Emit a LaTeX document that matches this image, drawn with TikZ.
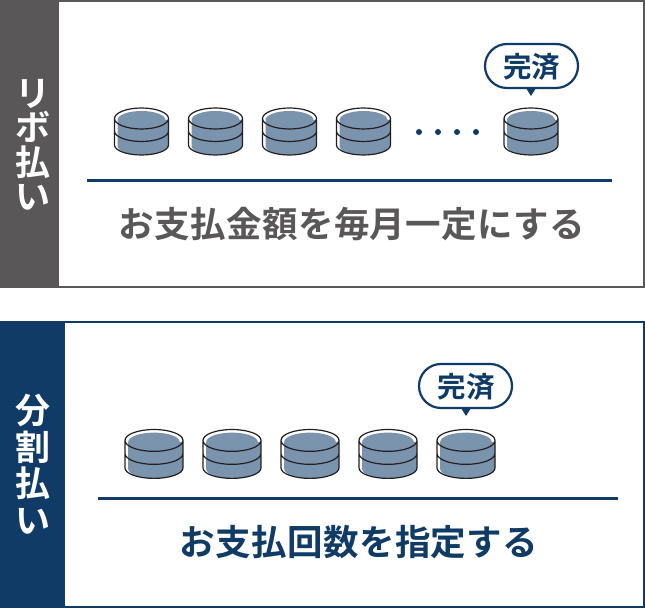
\documentclass[tikz,border=0pt]{standalone}
\usepackage{fontspec}
\newfontfamily\jpb[Script=CJK,Language=Japanese]{Noto Sans CJK JP Bold}
\newfontfamily\jpbs[Script=CJK,Language=Japanese,LetterSpace=1]{Noto Sans CJK JP Bold}
\definecolor{navy}{HTML}{0F3B66}
\definecolor{slate}{HTML}{595757}
\definecolor{coinblue}{HTML}{7B94AD}
\definecolor{coinline}{HTML}{231F20}
\tikzset{
  panelbox/.style={draw=#1,line width=2pt,fill=white},
  sideblock/.style={fill=#1},
  rulebar/.style={draw=navy,line width=3pt},
  sidelabel/.style={text=white,font=\jpb\fontsize{35}{#1}\selectfont,align=center,inner sep=0pt},
  mainlabel/.style={text=#1,font=\jpbs\fontsize{35.5}{40}\selectfont,inner sep=0pt},
  donelabel/.style={text=navy,font=\jpb\fontsize{28.5}{30}\selectfont,inner sep=0pt},
  bubble/.style={draw=navy,line width=2.2pt,fill=white,rounded corners=22pt},
  pics/coin/.style n args={2}{code={
    \begin{scope}[xscale=#1,yscale=#2]
    \path[fill=white] (0,10.5) arc[x radius=27,y radius=10.5,start angle=180,end angle=360]
      -- (54,37) arc[x radius=27,y radius=10,start angle=0,end angle=180] -- cycle;
    \path[fill=coinblue] (3,12) arc[x radius=24,y radius=9,start angle=180,end angle=360]
      -- (54,12) -- (54,37) arc[x radius=27,y radius=10,start angle=0,end angle=90]
      arc[x radius=24,y radius=9,start angle=90,end angle=180] -- cycle;
    \draw[coinline,line width=1.2pt,line join=round]
      (0,10.5) arc[x radius=27,y radius=10.5,start angle=180,end angle=-180]
      (0,10.5) -- (0,37) arc[x radius=27,y radius=10,start angle=180,end angle=0] -- (54,10.5)
      (0,23) arc[x radius=27,y radius=10.5,start angle=180,end angle=0];
    \end{scope}
  }},
}
\begin{document}
\begin{tikzpicture}[x=1pt,y=-1pt]
\useasboundingbox (0,0) rectangle (645,609);
% top panel
\path[panelbox=slate] (1,1) rectangle (644,287);
\path[sideblock=slate] (0,0) rectangle (59,288);
\node[sidelabel=34.5] (t1) at (33,145) {リ\\ボ\\払\\い};
\foreach \n/\x in {a/114.5,b/188.5,c/262.5,d/336.5,e/504}
  \pic (coin\n) at (\x,108) {coin={1}{1}};
\foreach \n/\x in {1/419,2/438,3/457,4/476}
  \fill[navy] (\x,132) circle[radius=3];
\draw[rulebar] (87,180.5) -- (612,180.5);
\node[mainlabel=slate] (m1) at (352,224) {お支払金額を毎月一定にする};
\draw[bubble] (485,44) rectangle (578,88);
\fill[navy] (526,88) -- (536,88) -- (531,96) -- cycle;
\node[donelabel] (d1) at (531.5,67) {完済};
% bottom panel
\path[panelbox=navy] (1,322) rectangle (644,607);
\path[sideblock=navy] (0,321) rectangle (65,608);
\node[sidelabel=36.5] (t2) at (33,464) {分\\割\\払\\い};
\foreach \n/\x in {a/125,b/203,c/281,d/359,e/437}
  \pic (coinb\n) at (\x,429.5) {coin={1.074}{1.04}};
\draw[rulebar] (98,498) -- (618,498);
\node[mainlabel=navy] (m2) at (359,542) {お支払回数を指定する};
\draw[bubble] (419,364) rectangle (512,408);
\fill[navy] (461,408) -- (471,408) -- (466,416) -- cycle;
\node[donelabel] (d2) at (466,387) {完済};
\end{tikzpicture}
\end{document}
